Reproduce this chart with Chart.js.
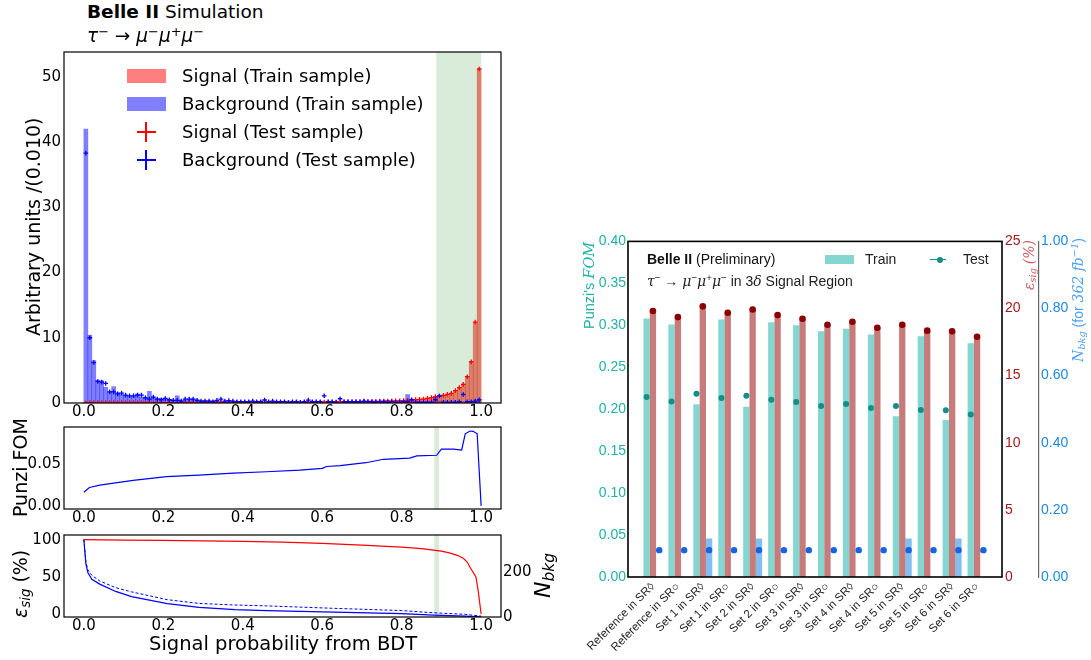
<!DOCTYPE html>
<html>
<head>
<meta charset="utf-8">
<title>BDT output and Punzi FOM comparison</title>
<script src="https://cdn.jsdelivr.net/npm/chart.js@4.4.1/dist/chart.umd.min.js"></script>
<style>
  body { margin: 0; background: #fff; }
  #page { position: relative; width: 1091px; height: 660px; overflow: hidden; font-family: 'DejaVu Sans', sans-serif; color: #000; }
  #page canvas { position: absolute; }
  .txt { position: absolute; white-space: nowrap; line-height: 1; }
  .vt { position: absolute; white-space: nowrap; line-height: 1; transform-origin: 0 0; transform: rotate(-90deg); }
  .sw { position: absolute; }
  .rp { font-family: 'Liberation Sans', Arial, sans-serif; }
  .m { font-family: 'DejaVu Serif', serif; font-style: italic; }
  sup { font-size: 0.7em; vertical-align: 0.5em; line-height: 0; }
  sub { font-size: 0.7em; vertical-align: -0.25em; line-height: 0; }
</style>
</head>
<body>
<div id="page">
  <canvas id="histChart" width="520" height="385" style="left:0;top:40px"></canvas>
  <canvas id="punziChart" width="520" height="112" style="left:0;top:415px"></canvas>
  <canvas id="effChart" width="540" height="117" style="left:0;top:523px"></canvas>
  <canvas id="fomChart" width="511" height="430" style="left:580px;top:230px"></canvas>

  <!-- left panel texts -->
  <div class="txt" id="t1" style="font-size:18.5px"><b>Belle II</b> Simulation</div>
  <div class="txt" id="t2" style="font-size:18.5px"><i>τ</i><sup>−</sup> → <i>μ</i><sup>−</sup><i>μ</i><sup>+</sup><i>μ</i><sup>−</sup></div>

  <div class="sw" style="left:127px;top:69px;width:39px;height:14px;background:rgba(255,0,0,0.5)"></div>
  <div class="sw" style="left:127px;top:97px;width:39px;height:14px;background:rgba(0,0,255,0.5)"></div>
  <div class="sw" style="left:137px;top:131px;width:19px;height:1.5px;background:#f00"></div>
  <div class="sw" style="left:145px;top:122px;width:1.5px;height:20px;background:#f00"></div>
  <div class="sw" style="left:137px;top:159px;width:19px;height:1.5px;background:#00f"></div>
  <div class="sw" style="left:145px;top:150px;width:1.5px;height:20px;background:#00f"></div>
  <div class="txt" id="lg1" style="font-size:18px">Signal (Train sample)</div>
  <div class="txt" id="lg2" style="font-size:18px">Background (Train sample)</div>
  <div class="txt" id="lg3" style="font-size:18px">Signal (Test sample)</div>
  <div class="txt" id="lg4" style="font-size:18px">Background (Test sample)</div>

  <div class="vt" id="yl1" style="font-size:19px">Arbitrary units /(0.010)</div>
  <div class="vt" id="yl2" style="font-size:19px">Punzi FOM</div>
  <div class="vt" id="yl3" style="font-size:19px"><i>ε</i><sub><i>sig</i></sub> (%)</div>
  <div class="vt" id="yl4" style="font-size:22px"><i>N</i><sub><i>bkg</i></sub></div>
  <div class="txt" id="xl1" style="font-size:19.5px">Signal probability from BDT</div>

  <!-- right panel texts -->
  <div class="txt rp" id="r1" style="font-size:14px;color:#111"><b>Belle II</b> (Preliminary)</div>
  <div class="txt rp" id="r2" style="font-size:14px;color:#222"><span class="m">τ</span><sup>−</sup> → <span class="m">μ</span><sup>−</sup><span class="m">μ</span><sup>+</sup><span class="m">μ</span><sup>−</sup> in 3<span class="m">δ</span> Signal Region</div>
  <div class="sw" style="left:825px;top:255px;width:29px;height:9px;background:rgba(32,178,170,0.55)"></div>
  <div class="txt rp" id="r3" style="font-size:14px;color:#222">Train</div>
  <div class="sw" style="left:930px;top:258.5px;width:16px;height:1.5px;background:#138f88"></div>
  <div class="sw" style="left:937px;top:256.5px;width:6px;height:6px;border-radius:3px;background:#138f88"></div>
  <div class="txt rp" id="r4" style="font-size:14px;color:#222">Test</div>

  <div class="vt rp" id="ry1" style="font-size:14.5px;color:#20b2aa">Punzi's <span class="m">FOM</span></div>
  <div class="vt rp" id="ry2" style="font-size:14px;color:#cd5c5c"><span class="m">ε<sub>sig</sub></span> <span class="m">(%)</span></div>
  <div class="vt rp" id="ry3" style="font-size:14px;color:#4ea1f0"><span class="m">N<sub>bkg</sub></span> (for <span class="m">362 fb<sup>−1</sup></span>)</div>
</div>

<script>
// ---------- left panel: BDT output (bins of 0.01) ----------
const bgTrain = [42.0, 10.4, 6.5, 3.5, 3.4, 2.4, 1.7, 2.5, 1.6, 1.3,
  1.2, 1.0, 1.0, 1.4, 0.9, 0.9, 1.8, 0.9, 0.7, 0.7,
  0.6, 0.55, 0.45, 1.1, 0.45, 0.4, 0.5, 0.6, 0.5, 0.35,
  0.4, 0.3, 0.35, 0.3, 0.25, 0.3, 0.3, 0.25, 0.2, 0.2,
  0.25, 0.2, 0.2, 0.25, 0.3, 0.2, 0.2, 0.2, 0.15, 0.2,
  0.15, 0.2, 0.15, 0.15, 0.2, 0.15, 0.2, 0.15, 0.2, 0.15,
  0.15, 0.2, 0.15, 0.15, 0.2, 0.15, 0.2, 0.15, 0.2, 0.15,
  0.15, 0.2, 0.15, 0.2, 0.15, 0.15, 0.2, 0.15, 0.2, 0.2,
  0.3, 1.3, 0.6, 0.3, 0.25, 0.2, 0.25, 0.3, 0.9, 0.3,
  0.2, 0.2, 0.15, 0.2, 0.15, 0.2, 0.2, 0.25, 0.3, 0.35];
const bgTest = [38.3, 10.0, 6.2, 3.3, 3.2, 3.0, 1.7, 1.7, 1.4, 1.5,
  1.2, 1.1, 1.1, 1.2, 1.2, 0.8, 0.6, 0.9, 0.6, 0.5,
  0.7, 0.5, 0.4, 0.4, 0.3, 0.6, 0.6, 0.6, 0.4, 0.3,
  0.3, 0.3, 0.2, 0.4, 0.6, 0.3, 0.36, 0.3, 0.2, 0.2,
  0.2, 0.2, 0.3, 0.2, 0.2, 0.46, 0.2, 0.3, 0.2, 0.2,
  0.2, 0.1, 0.2, 0.2, 0.1, 0.2, 0.45, 0.2, 0.2, 0.2,
  1.1, 0.2, 0.2, 0.1, 0.65, 0.2, 0.2, 0.2, 0.2, 0.2,
  0.3, 0.2, 0.2, 0.1, 0.2, 0.2, 0.1, 0.2, 0.1, 0.1,
  0.2, 0.2, 0.5, 0.1, 0.1, 0.1, 0.1, 0.1, 0.5, 1.07,
  0.1, 0.1, 0.1, 0.1, 0.2, 1.3, 0.2, 0.2, 0.3, 0.5];
const sigTrain = [0.05, 0.05, 0.05, 0.05, 0.05, 0.05, 0.05, 0.05, 0.05, 0.05,
  0.06, 0.06, 0.06, 0.06, 0.06, 0.06, 0.06, 0.06, 0.06, 0.06,
  0.07, 0.07, 0.07, 0.07, 0.07, 0.07, 0.07, 0.07, 0.07, 0.07,
  0.08, 0.08, 0.08, 0.08, 0.08, 0.08, 0.08, 0.08, 0.08, 0.08,
  0.09, 0.09, 0.09, 0.09, 0.09, 0.09, 0.09, 0.09, 0.09, 0.09,
  0.11, 0.11, 0.11, 0.11, 0.11, 0.11, 0.11, 0.11, 0.11, 0.11,
  0.14, 0.14, 0.14, 0.14, 0.14, 0.18, 0.18, 0.18, 0.18, 0.18,
  0.23, 0.23, 0.23, 0.23, 0.23, 0.3, 0.3, 0.3, 0.3, 0.3,
  0.37, 0.41, 0.45, 0.5, 0.55, 0.62, 0.7, 0.8, 0.95, 1.05,
  1.15, 1.3, 1.5, 1.9, 2.35, 2.9, 4.1, 6.4, 12.3, 51.2];
const sigTest = [0.04, 0.06, 0.05, 0.05, 0.04, 0.06, 0.05, 0.05, 0.06, 0.05,
  0.06, 0.05, 0.07, 0.06, 0.06, 0.05, 0.07, 0.06, 0.06, 0.07,
  0.07, 0.08, 0.06, 0.07, 0.08, 0.07, 0.06, 0.08, 0.07, 0.07,
  0.08, 0.09, 0.07, 0.08, 0.08, 0.09, 0.08, 0.07, 0.09, 0.08,
  0.09, 0.1, 0.08, 0.09, 0.1, 0.09, 0.09, 0.1, 0.08, 0.1,
  0.11, 0.12, 0.1, 0.11, 0.12, 0.11, 0.12, 0.11, 0.13, 0.12,
  0.14, 0.15, 0.13, 0.15, 0.16, 0.18, 0.19, 0.17, 0.2, 0.19,
  0.22, 0.24, 0.23, 0.25, 0.26, 0.29, 0.31, 0.3, 0.33, 0.34,
  0.36, 0.42, 0.44, 0.51, 0.56, 0.6, 0.72, 0.82, 0.97, 1.07,
  1.17, 1.33, 1.48, 1.89, 2.35, 2.86, 4.03, 6.3, 12.4, 51.2];
const histTicks = [0.0, 0.2, 0.4, 0.6, 0.8, 1.0];

// Punzi FOM vs BDT cut
const punziX = [0, 0.014, 0.04, 0.124, 0.208, 0.29, 0.376, 0.46, 0.544, 0.6, 0.611, 0.645, 0.71, 0.754, 0.82, 0.838, 0.888, 0.9, 0.93, 0.951, 0.96, 0.972, 0.98, 0.99, 1.0];
const punziY = [0.0163, 0.0219, 0.0248, 0.0304, 0.0348, 0.0367, 0.039, 0.0407, 0.0426, 0.0448, 0.047, 0.048, 0.0515, 0.0556, 0.057, 0.0596, 0.0604, 0.0678, 0.0678, 0.0667, 0.086, 0.0893, 0.0889, 0.086, 0.0];

// signal efficiency (%) and N_bkg vs BDT cut
const sigEffX = [0, 0.1, 0.2, 0.3, 0.4, 0.5, 0.6, 0.7, 0.8, 0.85, 0.88, 0.9, 0.92, 0.94, 0.955, 0.965, 0.972, 0.98, 0.987, 0.993, 1.0];
const sigEff = [100, 99.5, 99, 98.4, 97.8, 96.8, 95, 92.7, 90, 88, 86, 84.5, 82.3, 79, 75, 70, 63, 56, 50, 30, 0];
const nbkgX = [0, 0.005, 0.01, 0.02, 0.04, 0.08, 0.12, 0.21, 0.29, 0.38, 0.46, 0.63, 0.8, 0.88, 0.96, 1.0];
const nbkgTrain = [349, 240, 200, 170, 148, 115, 92, 60, 43, 33, 29, 22, 15, 8, 4, 1];
const nbkgTest = [349, 250, 212, 188, 162, 132, 113, 78, 61, 54, 50, 39, 29, 19, 12, 4];

// ---------- right panel: selection sets ----------
const categories = ['Reference in SR◊', 'Reference in SR○', 'Set 1 in SR◊', 'Set 1 in SR○',
  'Set 2 in SR◊', 'Set 2 in SR○', 'Set 3 in SR◊', 'Set 3 in SR○', 'Set 4 in SR◊', 'Set 4 in SR○',
  'Set 5 in SR◊', 'Set 5 in SR○', 'Set 6 in SR◊', 'Set 6 in SR○'];
const fomTrain = [0.308, 0.301, 0.206, 0.307, 0.203, 0.3035, 0.300, 0.293, 0.296, 0.289, 0.1915, 0.287, 0.187, 0.2785];
const fomTest = [0.2145, 0.2093, 0.2185, 0.2133, 0.2161, 0.2113, 0.2085, 0.2038, 0.2062, 0.2014, 0.2038, 0.199, 0.1986, 0.1938];
const effTrain = [19.81, 19.36, 20.16, 19.69, 19.93, 19.51, 19.24, 18.79, 19.02, 18.57, 18.79, 18.35, 18.30, 17.90];
const effTest = [19.81, 19.36, 20.16, 19.69, 19.93, 19.51, 19.24, 18.79, 19.02, 18.57, 18.79, 18.35, 18.30, 17.90];
const nbkgSetTrain = [0, 0, 0.115, 0, 0.115, 0, 0, 0, 0, 0, 0.115, 0, 0.115, 0];
const nbkgSetTest = [0.08, 0.08, 0.08, 0.08, 0.08, 0.08, 0.08, 0.08, 0.08, 0.08, 0.08, 0.08, 0.08, 0.08];

Chart.defaults.font.family = "'DejaVu Sans', sans-serif";
Chart.defaults.color = '#000';
Chart.defaults.animation = false;
Chart.defaults.plugins.legend.display = false;
Chart.defaults.plugins.tooltip.enabled = false;

const pairs = (xs, ys) => xs.map((x, i) => ({ x: x, y: ys[i] }));
const binCenters = bgTrain.map((v, i) => 0.005 + i * 0.01);

const framePlugin = {
  id: 'frame',
  afterDraw(chart, args, opts) {
    const a = chart.chartArea, ctx = chart.ctx;
    ctx.save();
    ctx.strokeStyle = '#000';
    ctx.lineWidth = opts.width || 1.2;
    ctx.strokeRect(a.left, a.top, a.right - a.left, a.bottom - a.top);
    ctx.restore();
  }
};

function drawBand(chart, opts) {
  const a = chart.chartArea, ctx = chart.ctx, x = chart.scales.x;
  const x0 = x.getPixelForValue(opts.from), x1 = x.getPixelForValue(opts.to);
  ctx.save();
  ctx.fillStyle = opts.color;
  ctx.fillRect(x0, a.top, x1 - x0, a.bottom - a.top);
  ctx.restore();
}
const bandPlugin = {
  id: 'band',
  beforeDatasetsDraw(chart, args, opts) {
    if (opts.afterIndex === undefined) drawBand(chart, opts);
  },
  afterDatasetDraw(chart, args, opts) {
    if (opts.afterIndex !== undefined && args.index === opts.afterIndex) drawBand(chart, opts);
  }
};

const leftX = (h, pad) => ({
  type: 'linear', min: -0.05, max: 1.05, offset: false,
  grid: { display: false, drawTicks: false }, border: { display: false },
  afterBuildTicks: s => { s.ticks = histTicks.map(v => ({ value: v })); },
  afterFit: s => { s.height = h; },
  ticks: { font: { size: 15 }, padding: pad, maxRotation: 0, callback: v => v.toFixed(1) }
});

// top: histogram
new Chart('histChart', {
  type: 'bar',
  data: {
    datasets: [
      { label: 'Signal (Train sample)', data: pairs(binCenters, sigTrain), backgroundColor: 'rgba(255,0,0,0.5)',
        grouped: false, barPercentage: 1, categoryPercentage: 1, order: 3 },
      { label: 'Background (Train sample)', data: pairs(binCenters, bgTrain), backgroundColor: 'rgba(0,0,255,0.5)',
        grouped: false, barPercentage: 1, categoryPercentage: 1, order: 4 },
      { type: 'line', label: 'Signal (Test sample)', data: pairs(binCenters, sigTest), showLine: false,
        pointStyle: 'cross', pointRadius: 2.3, pointBorderWidth: 1.3, borderColor: '#f00', order: 2 },
      { type: 'line', label: 'Background (Test sample)', data: pairs(binCenters, bgTest), showLine: false,
        pointStyle: 'cross', pointRadius: 2.3, pointBorderWidth: 1.3, borderColor: '#00f', order: 1 }
    ]
  },
  options: {
    responsive: false,
    layout: { padding: { top: 11, right: 19, left: 0, bottom: 0 } },
    plugins: { band: { from: 0.887, to: 1.0, color: 'rgba(0,128,0,0.15)', afterIndex: 0 } },
    scales: {
      x: leftX(22, 0),
      y: {
        min: 0, max: 53.8,
        grid: { display: false, drawTicks: false }, border: { display: false },
        afterBuildTicks: s => { s.ticks = [0, 10, 20, 30, 40, 50].map(v => ({ value: v })); },
        afterFit: s => { s.width = 64; },
        ticks: { font: { size: 15 }, padding: 3 }
      }
    }
  },
  plugins: [bandPlugin, framePlugin]
});

// middle: Punzi FOM
new Chart('punziChart', {
  type: 'line',
  data: {
    datasets: [{ label: 'Punzi FOM', data: pairs(punziX, punziY), borderColor: '#00f', borderWidth: 1.2,
      pointRadius: 0, tension: 0 }]
  },
  options: {
    responsive: false,
    layout: { padding: { top: 6, right: 19, left: 0, bottom: 0 } },
    plugins: { band: { from: 0.882, to: 0.894, color: 'rgba(0,128,0,0.15)' } },
    scales: {
      x: leftX(18, 0),
      y: {
        min: -0.0037, max: 0.0941,
        grid: { display: false, drawTicks: false }, border: { display: false },
        afterBuildTicks: s => { s.ticks = [0, 0.05].map(v => ({ value: v })); },
        afterFit: s => { s.width = 64; },
        ticks: { font: { size: 15 }, padding: 3, callback: v => v.toFixed(2) }
      }
    }
  },
  plugins: [bandPlugin, framePlugin]
});

// bottom: efficiency and N_bkg
new Chart('effChart', {
  type: 'line',
  data: {
    datasets: [
      { label: 'eps sig', data: pairs(sigEffX, sigEff), borderColor: '#f00', borderWidth: 1.2, pointRadius: 0, yAxisID: 'y' },
      { label: 'N bkg (train)', data: pairs(nbkgX, nbkgTrain), borderColor: '#00f', borderWidth: 1.2, pointRadius: 0, yAxisID: 'y1' },
      { label: 'N bkg (test)', data: pairs(nbkgX, nbkgTest), borderColor: '#00f', borderWidth: 1, borderDash: [3, 2], pointRadius: 0, yAxisID: 'y1' }
    ]
  },
  options: {
    responsive: false,
    layout: { padding: { top: 6, right: 4, left: 0, bottom: 0 } },
    plugins: { band: { from: 0.882, to: 0.894, color: 'rgba(0,128,0,0.15)' } },
    scales: {
      x: leftX(23, 0),
      y: {
        min: -3.75, max: 106.25,
        grid: { display: false, drawTicks: false }, border: { display: false },
        afterBuildTicks: s => { s.ticks = [0, 50, 100].map(v => ({ value: v })); },
        afterFit: s => { s.width = 64; },
        ticks: { font: { size: 15 }, padding: 3 }
      },
      y1: {
        position: 'right', min: 0, max: 369,
        grid: { display: false, drawTicks: false }, border: { display: false },
        afterBuildTicks: s => { s.ticks = [0, 200].map(v => ({ value: v })); },
        afterFit: s => { s.width = 35; },
        ticks: { font: { size: 15 }, padding: 2 }
      }
    }
  },
  plugins: [bandPlugin, framePlugin]
});

// right panel: FOM / efficiency / N_bkg per selection set
const idx = categories.map((c, i) => i);
const shift = 0.76 / 3;
const rightFont = "'Liberation Sans', 'DejaVu Sans', sans-serif";
new Chart('fomChart', {
  type: 'bar',
  data: {
    datasets: [
      { label: 'FOM train', data: pairs(idx, fomTrain), backgroundColor: 'rgba(32,178,170,0.55)', yAxisID: 'y',
        barPercentage: 1, categoryPercentage: 0.76, order: 4 },
      { label: 'eff train', data: pairs(idx, effTrain), backgroundColor: 'rgba(165,42,42,0.62)', yAxisID: 'y1',
        barPercentage: 1, categoryPercentage: 0.76, order: 5 },
      { label: 'Nbkg train', data: pairs(idx, nbkgSetTrain), backgroundColor: 'rgba(30,136,229,0.55)', yAxisID: 'y2',
        barPercentage: 1, categoryPercentage: 0.76, order: 6 },
      { type: 'line', label: 'FOM test', data: pairs(idx.map(i => i - shift), fomTest), showLine: false,
        pointRadius: 3, pointBackgroundColor: '#138f88', pointBorderWidth: 0, yAxisID: 'y', order: 1 },
      { type: 'line', label: 'eff test', data: pairs(idx, effTest), showLine: false,
        pointRadius: 3.3, pointBackgroundColor: '#8b0000', pointBorderWidth: 0, yAxisID: 'y1', order: 2 },
      { type: 'line', label: 'Nbkg test', data: pairs(idx.map(i => i + shift), nbkgSetTest), showLine: false,
        pointRadius: 3.2, pointBackgroundColor: '#1565e0', pointBorderWidth: 0, yAxisID: 'y2', order: 3 }
    ]
  },
  options: {
    responsive: false,
    layout: { padding: { top: 11, right: 0, left: 0, bottom: 0 } },
    plugins: { frame: { width: 1.6 } },
    scales: {
      x: {
        type: 'linear', min: -1, max: 14, offset: false,
        grid: { display: false, drawTicks: false }, border: { display: false },
        afterBuildTicks: s => { s.ticks = idx.map(v => ({ value: v })); },
        afterFit: s => { s.height = 83; },
        ticks: { autoSkip: false, minRotation: 45, maxRotation: 45, padding: 3, color: '#222',
          font: { family: rightFont, size: 11.5 }, callback: v => categories[v] }
      },
      y: {
        min: 0, max: 0.4,
        grid: { display: false, drawTicks: false }, border: { display: false },
        afterFit: s => { s.width = 48; },
        ticks: { stepSize: 0.05, padding: 2, color: '#20b2aa', font: { family: rightFont, size: 14 }, callback: v => v.toFixed(2) }
      },
      y1: {
        position: 'right', weight: 1, min: 0, max: 25,
        grid: { display: false, drawTicks: false }, border: { display: false },
        afterFit: s => { s.width = 37; },
        ticks: { stepSize: 5, padding: 3, color: '#a51a1a', font: { family: rightFont, size: 14 } }
      },
      y2: {
        position: 'right', weight: 2, min: 0, max: 1,
        grid: { display: false, drawTicks: false }, border: { display: true, color: '#666', width: 1.2 },
        afterFit: s => { s.width = 52; },
        ticks: { stepSize: 0.2, padding: 2, color: '#1e88e5', font: { family: rightFont, size: 14 }, callback: v => v.toFixed(2) }
      }
    }
  },
  plugins: [framePlugin]
});

// ---------- place html texts ----------
function placeText(id, x, yc, align) {
  const el = document.getElementById(id);
  const w = el.offsetWidth, h = el.offsetHeight;
  el.style.left = (align === 'center' ? x - w / 2 : x) + 'px';
  el.style.top = (yc - h / 2) + 'px';
}
function placeVertical(id, xc, y, anchor) {
  const el = document.getElementById(id);
  const w = el.offsetWidth, h = el.offsetHeight;
  el.style.left = (xc - h / 2) + 'px';
  el.style.top = (anchor === 'top' ? y + w : y + w / 2) + 'px';
}
placeText('t1', 87, 12);
placeText('t2', 87, 36);
placeText('lg1', 182, 76);
placeText('lg2', 182, 104);
placeText('lg3', 182, 132);
placeText('lg4', 182, 160);
placeText('xl1', 283, 644, 'center');
placeVertical('yl1', 33, 226, 'center');
placeVertical('yl2', 20, 467, 'center');
placeVertical('yl3', 20, 584, 'center');
placeVertical('yl4', 543, 575, 'center');

placeText('r1', 647, 259);
placeText('r2', 647, 281);
placeText('r3', 865, 259);
placeText('r4', 963, 259);
placeVertical('ry1', 589, 242, 'top');
placeVertical('ry2', 1029, 240, 'top');
placeVertical('ry3', 1078, 238, 'top');
</script>
</body>
</html>
